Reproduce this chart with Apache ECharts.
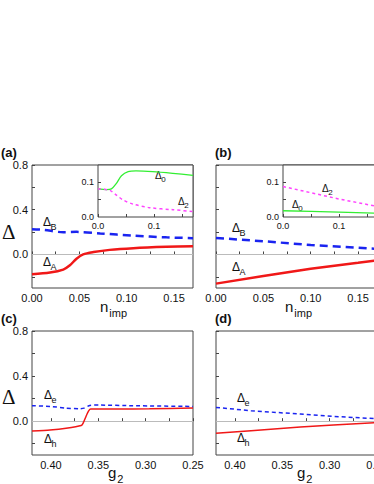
<!DOCTYPE html>
<html>
<head>
<meta charset="utf-8">
<script src="https://cdn.jsdelivr.net/npm/echarts@6/dist/echarts.min.js"></script>
<style>
  html, body { margin: 0; padding: 0; background: #fff; }
  #main { width: 374px; height: 484px; }
</style>
</head>
<body>
<div id="main"></div>
<script>
// ---- data ----
// (a) n_imp axis
var aX_B = [0, 0.012, 0.033, 0.047, 0.072, 0.107, 0.142, 0.17];
var aDeltaB = [0.226, 0.22, 0.199, 0.202, 0.188, 0.168, 0.153, 0.146];
var aX_A = [0, 0.019, 0.033, 0.040, 0.047, 0.054, 0.065, 0.082, 0.107, 0.142, 0.17];
var aDeltaA = [-0.176, -0.162, -0.135, -0.097, -0.038, 0.0, 0.021, 0.041, 0.056, 0.068, 0.074];
// (a) inset
var aiX0 = [0, 0.015, 0.024, 0.033, 0.042, 0.054, 0.068, 0.098, 0.134, 0.17];
var aiDelta0 = [0.081, 0.079, 0.081, 0.097, 0.119, 0.131, 0.133, 0.131, 0.126, 0.12];
var aiX2 = [0, 0.021, 0.033, 0.045, 0.063, 0.092, 0.134, 0.17];
var aiDelta2 = [0.081, 0.077, 0.063, 0.049, 0.037, 0.027, 0.021, 0.016];
// (b)
var bX = [0, 0.05, 0.10, 0.15, 0.17];
var bDeltaB = [0.148, 0.118, 0.085, 0.06, 0.05];
var bDeltaA = [-0.261, -0.193, -0.127, -0.074, -0.052];
// (b) inset
var biX = [0, 0.05, 0.10, 0.17];
var biDelta2 = [0.088, 0.07, 0.052, 0.03];
var biDelta0 = [0.018, 0.016, 0.014, 0.011];
// (c) g2 axis (reversed)
var cX_e = [0.42, 0.401, 0.384, 0.37, 0.365, 0.359, 0.349, 0.314, 0.25];
var cDeltaE = [0.137, 0.131, 0.116, 0.110, 0.116, 0.140, 0.143, 0.137, 0.131];
var cX_h = [0.42, 0.401, 0.384, 0.368, 0.366, 0.363, 0.360, 0.358, 0.331, 0.296, 0.25];
var cDeltaH = [-0.087, -0.078, -0.063, -0.039, -0.018, 0.042, 0.093, 0.107, 0.107, 0.110, 0.116];
// (d)
var dX = [0.42, 0.383, 0.331, 0.296, 0.25];
var dDeltaE = [0.122, 0.093, 0.063, 0.042, 0.022];
var dDeltaH = [-0.107, -0.084, -0.051, -0.033, -0.012];
// tick labels
var nTicks = [0, 0.05, 0.10, 0.15];
var gTicks = [0.40, 0.35, 0.30, 0.25];
var yTicks = [0, 0.4, 0.8];
var insetTicks = [0, 0.1];

function zip(xs, ys) {
  var out = [];
  for (var i = 0; i < xs.length; i++) out.push([xs[i], ys[i]]);
  return out;
}

var RED = '#f01818', BLUE = '#1a24f0', GREEN = '#33ee33', PINK = '#ff44ff';
var FONT = 'Liberation Sans';

var chart = echarts.init(document.getElementById('main'), null, { renderer: 'svg' });

// outerBoundsMode none: right-hand panels are allowed to run past the page edge
function grid(l, t, w, h, inset) {
  return { left: l, top: t, width: w, height: h, show: true, borderColor: '#444', borderWidth: 1,
           outerBoundsMode: 'none', containLabel: false,
           backgroundColor: inset ? '#fff' : 'transparent' };
}
function xAx(gi, min, max, inv, labels, ticks, showLabel, fs) {
  return {
    type: 'value', gridIndex: gi, min: min, max: max, inverse: inv,
    axisLine: { show: false }, splitLine: { show: false },
    axisTick: { show: true, inside: true, length: 3, lineStyle: { color: '#444' }, customValues: ticks },
    axisLabel: { show: showLabel, customValues: labels, margin: 4, color: '#111', fontFamily: FONT, fontSize: fs,
                 formatter: function (v) { return fs < 11 ? v.toFixed(1) : v.toFixed(2); } }
  };
}
function yAx(gi, min, max, labels, ticks, showLabel, fs) {
  return {
    type: 'value', gridIndex: gi, min: min, max: max,
    axisLine: { show: false }, splitLine: { show: false },
    axisTick: { show: true, inside: true, length: 3, lineStyle: { color: '#444' }, customValues: ticks },
    axisLabel: { show: showLabel, customValues: labels, margin: 4, color: '#111', fontFamily: FONT, fontSize: fs,
                 formatter: function (v) { return v.toFixed(1); } }
  };
}
function line(ax, data, color, width, dash, zero, smooth) {
  var s = {
    type: 'line', xAxisIndex: ax, yAxisIndex: ax, data: data, showSymbol: false, symbol: 'none',
    smooth: smooth || false, silent: true,
    lineStyle: { color: color, width: width, type: dash || 'solid' }, z: 3
  };
  if (zero) {
    s.markLine = { silent: true, symbol: 'none', label: { show: false }, z: 1,
                   lineStyle: { color: '#bbb', width: 1, type: 'solid' }, data: [{ yAxis: 0 }] };
  }
  return s;
}
function sub(x, y, main, s, size) {
  return [
    { type: 'text', left: x, top: y, style: { text: main, font: size + 'px ' + FONT, fill: '#111' } },
    { type: 'text', left: x + size * 0.62, top: y + size * 0.55, style: { text: s, font: Math.round(size * 0.75) + 'px ' + FONT, fill: '#111' } }
  ];
}

var yMain = [-0.2, 0, 0.2, 0.4, 0.6, 0.8];
var nMinor = [0, 0.025, 0.05, 0.075, 0.10, 0.125, 0.15];
var gMinor = [0.40, 0.375, 0.35, 0.325, 0.30, 0.275, 0.25];

var graphics = [].concat(
  [{ type: 'text', left: 1, top: 146, style: { text: '(a)', font: 'bold 13px ' + FONT, fill: '#111' } },
   { type: 'text', left: 215, top: 146, style: { text: '(b)', font: 'bold 13px ' + FONT, fill: '#111' } },
   { type: 'text', left: 1, top: 312, style: { text: '(c)', font: 'bold 13px ' + FONT, fill: '#111' } },
   { type: 'text', left: 215, top: 312, style: { text: '(d)', font: 'bold 13px ' + FONT, fill: '#111' } },
   { type: 'text', left: 2, top: 221, style: { text: 'Δ', font: '21px Liberation Serif', fill: '#111' } },
   { type: 'text', left: 2, top: 386, style: { text: 'Δ', font: '21px Liberation Serif', fill: '#111' } }],
  sub(100, 299, 'n', 'imp', 15),
  sub(285, 299, 'n', 'imp', 15),
  sub(108, 465, 'g', '2', 15),
  sub(297, 465, 'g', '2', 15),
  sub(43, 216, 'Δ', 'B', 12),
  sub(43, 256, 'Δ', 'A', 12),
  sub(155, 170, 'Δ', '0', 10),
  sub(178, 196, 'Δ', '2', 10),
  sub(232, 222, 'Δ', 'B', 12),
  sub(232, 261, 'Δ', 'A', 12),
  sub(322, 183, 'Δ', '2', 10),
  sub(292, 199, 'Δ', '0', 10),
  sub(44, 389, 'Δ', 'e', 12),
  sub(44, 433, 'Δ', 'h', 12),
  sub(237, 392, 'Δ', 'e', 12),
  sub(237, 432, 'Δ', 'h', 12)
);

var option = {
  backgroundColor: '#fff',
  animation: false,
  grid: [
    grid(32, 165, 161, 123), grid(216, 165, 161, 123),
    grid(32, 331, 161, 124), grid(216, 331, 161, 124),
    grid(98, 165, 95, 52, true), grid(283, 165, 95, 52, true)
  ],
  xAxis: [
    xAx(0, 0, 0.17, false, nTicks, nMinor, true, 11),
    xAx(1, 0, 0.17, false, nTicks, nMinor, true, 11),
    xAx(2, 0.25, 0.42, true, gTicks, gMinor, true, 11),
    xAx(3, 0.25, 0.42, true, gTicks, gMinor, true, 11),
    xAx(4, 0, 0.17, false, insetTicks, [0, 0.05, 0.1, 0.15], true, 9),
    xAx(5, 0, 0.17, false, insetTicks, [0, 0.05, 0.1, 0.15], true, 9)
  ],
  yAxis: [
    yAx(0, -0.3, 0.8, yTicks, yMain, true, 11),
    yAx(1, -0.3, 0.8, yTicks, yMain, false, 11),
    yAx(2, -0.3, 0.8, yTicks, yMain, true, 11),
    yAx(3, -0.3, 0.8, yTicks, yMain, false, 11),
    yAx(4, 0, 0.15, insetTicks, [0.05, 0.1], true, 9),
    yAx(5, 0, 0.15, insetTicks, [0.05, 0.1], true, 9)
  ],
  series: [
    line(0, zip(aX_A, aDeltaA), RED, 2.5, 'solid', true, 0.3),
    line(0, zip(aX_B, aDeltaB), BLUE, 2.5, [8, 5], false, 0.3),
    line(1, zip(bX, bDeltaA), RED, 2.5, 'solid', true),
    line(1, zip(bX, bDeltaB), BLUE, 2.5, [8, 5]),
    line(2, zip(cX_h, cDeltaH), RED, 1.5, 'solid', true, 0.2),
    line(2, zip(cX_e, cDeltaE), BLUE, 1.5, [4, 3], false, 0.2),
    line(3, zip(dX, dDeltaH), RED, 1.5, 'solid', true),
    line(3, zip(dX, dDeltaE), BLUE, 1.5, [4, 3]),
    line(4, zip(aiX0, aiDelta0), GREEN, 1.3, 'solid', false, 0.3),
    line(4, zip(aiX2, aiDelta2), PINK, 1.5, [3, 3], false, 0.3),
    line(5, zip(biX, biDelta0), GREEN, 1.3),
    line(5, zip(biX, biDelta2), PINK, 1.5, [3, 3])
  ],
  graphic: graphics
};
chart.setOption(option);
</script>
</body>
</html>
